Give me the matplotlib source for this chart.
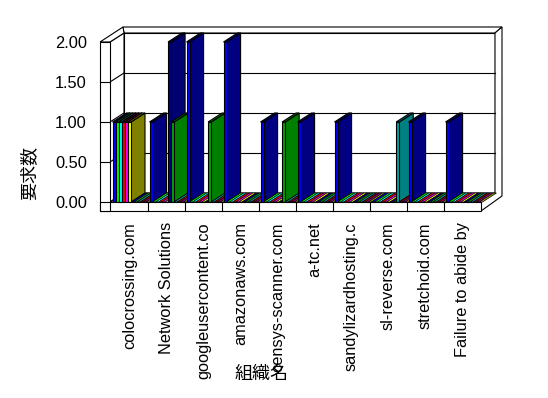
import matplotlib.pyplot as plt
from matplotlib.patches import Polygon


plt.rcParams['font.family'] = ['Liberation Sans', 'Noto Sans CJK JP']

# categories (organisation names, truncated as in the original)
categories = ["colocrossing.com", "Network Solutions", "googleusercontent.co",
              "amazonaws.com", "censys-scanner.com", "a-tc.net",
              "sandylizardhosting.c", "sl-reverse.com", "stretchoid.com",
              "Failure to abide by"]

# one list per series (12 series, values per category)
s01 = [1, 1, 2, 2, 1, 1, 1, 0, 1, 1]
s02 = [1, 0, 0, 0, 0, 0, 0, 0, 0, 0]
s03 = [1, 0, 0, 0, 0, 0, 0, 0, 0, 0]
s04 = [1, 0, 0, 0, 0, 0, 0, 0, 0, 0]
s05 = [1, 0, 0, 0, 0, 0, 0, 0, 0, 0]
s06 = [1, 0, 0, 0, 0, 0, 0, 0, 0, 0]
s07 = [0, 2, 0, 0, 0, 0, 0, 0, 0, 0]
s08 = [0, 1, 1, 0, 1, 0, 0, 0, 0, 0]
s09 = [0, 0, 0, 0, 0, 0, 0, 1, 0, 0]
s10 = [0, 0, 0, 0, 0, 0, 0, 0, 0, 0]
s11 = [0, 0, 0, 0, 0, 0, 0, 0, 0, 0]
s12 = [0, 0, 0, 0, 0, 0, 0, 0, 0, 0]
series = [s01, s02, s03, s04, s05, s06, s07, s08, s09, s10, s11, s12]

yticks = [0, 0.5, 1.0, 1.5, 2.0]
ytick_labels = ["0.00", "0.50", "1.00", "1.50", "2.00"]

face_col = ['#0000ff', '#00ff00', '#00ffff', '#ff0000', '#ff00ff', '#ffff00',
            '#000088', '#00a000', '#00a0a0', '#a00000', '#a000a0', '#a0a000']
side_col = ['#000080', '#008000', '#008080', '#800000', '#800080', '#808000',
            '#000070', '#008000', '#008080', '#800000', '#800080', '#808000']

# 3D geometry, in data units (1 category = 37 px, 1.0 = 80 px)
PX = 1 / 37.
PY = 1 / 80.
DX, DY = 14 * PX, 9 * PY        # depth of the floor / bars
TX, TY = 7 * PX, 6 * PY         # wall thickness behind
FT = 9 * PY                     # floor thickness
XL, XI = -11 * PX, -1 * PX      # left wall, outer / inner
OFF = 1.5 * PX
BW = 1 / 12.
ymax = 2.0
n = len(categories)

fig = plt.figure(figsize=(5.48, 3.98), dpi=100)
ax = fig.add_axes([100 / 548, (398 - 211) / 398, 402 / 548, 184 / 398])
ax.set_xlim(XL, n + DX + TX)
ax.set_ylim(-FT, ymax + DY + TY)
for sp in ax.spines.values():
    sp.set_visible(False)


def poly(pts, fc, z, lw=0.8):
    ax.add_patch(Polygon(pts, closed=True, fc=fc, ec='black', lw=lw,
                         zorder=z, clip_on=False, joinstyle='miter'))


def line(xs, ys, z):
    ax.plot(xs, ys, color='black', lw=0.8, zorder=z, clip_on=False)


# back wall with grid
poly([(XI + DX, DY), (n + DX, DY), (n + DX, ymax + DY), (XI + DX, ymax + DY)], 'white', 1)
for v in yticks[1:-1]:
    line([XI + DX, n + DX], [v + DY, v + DY], 2)
poly([(XI + DX, ymax + DY), (n + DX, ymax + DY), (n + DX + TX, ymax + DY + TY),
      (XI + DX - PX, ymax + DY + TY)], 'white', 1)
poly([(n, 0), (n, -FT), (n + DX + TX, DY + TY - FT), (n + DX + TX, ymax + DY + TY),
      (n + DX, ymax + DY), (n + DX, DY)], 'white', 1)

# left wall
poly([(XI, 0), (XI, ymax), (XI + DX, ymax + DY), (XI + DX, DY)], 'white', 2)
for v in yticks[1:-1]:
    line([XI, XI + DX], [v, v + DY], 3)
poly([(XL, ymax), (XI, ymax), (XI + DX, ymax + DY), (XI + DX - PX, ymax + DY + TY)], 'white', 2)

# floor
poly([(XI, 0), (n, 0), (n + DX, DY), (XI + DX, DY)], 'white', 3)

# bars, left to right
z = 10
for i in range(n):
    for j, s in enumerate(series):
        v = s[i]
        x = i + OFF + j * BW
        if v > 0:
            poly([(x + BW, 0), (x + BW + DX, DY), (x + BW + DX, v + DY), (x + BW, v)], side_col[j], z)
            poly([(x, 0), (x + BW, 0), (x + BW, v), (x, v)], face_col[j], z)
            poly([(x, v), (x + BW, v), (x + BW + DX, v + DY), (x + DX, v + DY)], side_col[j], z)
        else:
            poly([(x, v), (x + BW, v), (x + BW + DX, v + DY), (x + DX, v + DY)], face_col[j], z, lw=0.45)
        z += 1

# front faces of floor and left wall
poly([(XL, -FT), (n, -FT), (n, 0), (XL, 0)], 'white', z + 1)
for i in range(1, n):
    line([i, i], [-FT, 0], z + 2)
poly([(XL, -FT), (XI, -FT), (XI, ymax), (XL, ymax)], 'white', z + 1)
for v in yticks[:-1]:
    line([XL, XI], [v, v], z + 2)

ax.set_yticks(yticks)
ax.set_yticklabels(ytick_labels, fontsize=11.8)
ax.set_xticks([i + 0.5 for i in range(n)])
ax.set_xticklabels(categories, rotation=90, fontsize=11.8)
ax.tick_params(axis='y', length=0, pad=9.4)
ax.tick_params(axis='x', length=0, pad=8)

ax.set_xlabel("組織名", fontsize=13)
ax.xaxis.set_label_coords((262 - 100) / 402., (211 - 366) / 184.)
ax.set_ylabel("要求数", fontsize=13)
ax.yaxis.set_label_coords((38 - 100) / 402., (211 - 173) / 184.)

plt.savefig("out.png", dpi=100)
